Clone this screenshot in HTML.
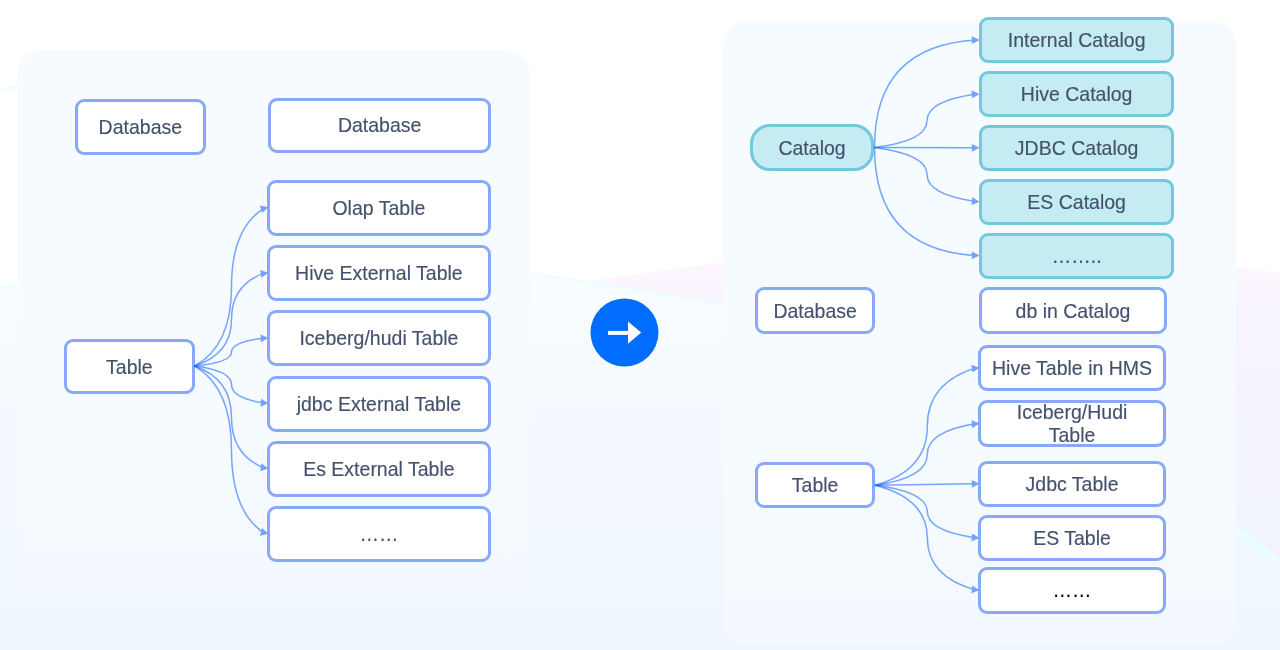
<!DOCTYPE html>
<html><head><meta charset="utf-8"><style>
html,body{margin:0;padding:0;}
body{width:1280px;height:650px;overflow:hidden;position:relative;font-family:"Liberation Sans",sans-serif;
background:#ffffff;}
.panel{position:absolute;border-radius:25px;background:linear-gradient(180deg,#f5fbff 0%,#f5fbff 60%,#f3f9fe 100%);}
.bx{position:absolute;box-sizing:border-box;display:flex;align-items:center;justify-content:center;text-align:center;
font-size:19.5px;line-height:22px;color:#44516d;white-space:nowrap;will-change:transform;}
.b{border:3px solid #88a8f8;background:#fff;}
.c{border:3px solid #74c8dc;background:#c5ecf2;}
svg{position:absolute;left:0;top:0;}
.t{display:inline-block;transform:scaleY(1.06);transform-origin:50% 72%;-webkit-text-stroke:0.15px #44516d;}
</style></head><body>

<svg width="1280" height="650" viewBox="0 0 1280 650" style="position:absolute;left:0;top:0">
<defs>
<linearGradient id="gl" x1="0" y1="270" x2="0" y2="650" gradientUnits="userSpaceOnUse">
<stop offset="0" stop-color="#fafdff"/><stop offset="0.4" stop-color="#f3f9fe"/><stop offset="1" stop-color="#eff7fd"/></linearGradient>
<linearGradient id="gp" x1="0" y1="262" x2="0" y2="560" gradientUnits="userSpaceOnUse">
<stop offset="0" stop-color="#fdf6fe"/><stop offset="0.2" stop-color="#f7f4fd"/><stop offset="1" stop-color="#f0f3fd"/></linearGradient>
</defs>
<path d="M-5 290 Q240 225 530 273 L724 305 L1280 420 L1280 650 L0 650Z" fill="url(#gl)"/>
<path d="M590 281 L724 262 L1236 267 L1280 273 L1280 563 L1236 530 L724 305Z" fill="url(#gp)"/>
<path d="M1236 530 L1280 563" stroke="#eafffd" stroke-width="8"/>
<path d="M-5 290 Q240 225 530 273 L724 305" fill="none" stroke="#eefdfd" stroke-width="3"/>
<path d="M0 91 L17 86" stroke="#effdfd" stroke-width="3"/>
</svg>
<div class="panel" style="left:17.2px;top:50px;width:512.8px;height:541px"></div>
<div class="panel" style="left:723.4px;top:21px;width:512.8px;height:624px"></div>
<div class="bx b" style="left:74.8px;top:98.9px;width:130.7px;height:55.7px;border-radius:9px;"><span class="t">Database</span></div>
<div class="bx b" style="left:267.5px;top:98.4px;width:223.3px;height:54.7px;border-radius:9px;"><span class="t">Database</span></div>
<div class="bx b" style="left:64.1px;top:338.9px;width:130.7px;height:55px;border-radius:9px;"><span class="t">Table</span></div>
<div class="bx b" style="left:267.2px;top:179.6px;width:223.8px;height:55.5px;border-radius:9px;"><span class="t">Olap Table</span></div>
<div class="bx b" style="left:267.2px;top:244.89999999999998px;width:223.8px;height:55.5px;border-radius:9px;"><span class="t">Hive External Table</span></div>
<div class="bx b" style="left:267.2px;top:310.2px;width:223.8px;height:55.5px;border-radius:9px;"><span class="t">Iceberg/hudi Table</span></div>
<div class="bx b" style="left:267.2px;top:375.5px;width:223.8px;height:55.5px;border-radius:9px;"><span class="t">jdbc External Table</span></div>
<div class="bx b" style="left:267.2px;top:440.79999999999995px;width:223.8px;height:55.5px;border-radius:9px;"><span class="t">Es External Table</span></div>
<div class="bx b" style="left:267.2px;top:506.1px;width:223.8px;height:55.5px;border-radius:9px;"><span class="t">……</span></div>
<div class="bx c" style="left:750.3px;top:124.4px;width:124.1px;height:46.6px;border-radius:20px;padding-top:0.5px;"><span class="t">Catalog</span></div>
<div class="bx c" style="left:978.5px;top:16.9px;width:195.3px;height:46.2px;border-radius:9px;padding-top:0.5px;"><span class="t">Internal Catalog</span></div>
<div class="bx c" style="left:978.5px;top:70.8px;width:195.3px;height:46.2px;border-radius:9px;padding-top:0.5px;"><span class="t">Hive Catalog</span></div>
<div class="bx c" style="left:978.5px;top:124.69999999999999px;width:195.3px;height:46.2px;border-radius:9px;padding-top:0.5px;"><span class="t">JDBC Catalog</span></div>
<div class="bx c" style="left:978.5px;top:178.6px;width:195.3px;height:46.2px;border-radius:9px;padding-top:0.5px;"><span class="t">ES Catalog</span></div>
<div class="bx c" style="left:978.5px;top:232.5px;width:195.3px;height:46.2px;border-radius:9px;padding-top:0.5px;"><span class="t">……..</span></div>
<div class="bx b" style="left:754.5px;top:286.5px;width:120.3px;height:46.7px;border-radius:9px;padding-top:0.5px;"><span class="t">Database</span></div>
<div class="bx b" style="left:978.5px;top:286.8px;width:188px;height:46.6px;border-radius:9px;padding-top:0.5px;"><span class="t">db in Catalog</span></div>
<div class="bx b" style="left:754.9px;top:462px;width:120.2px;height:46.2px;border-radius:9px;padding-top:0.5px;"><span class="t">Table</span></div>
<div class="bx b" style="left:978.4px;top:344.5px;width:188.1px;height:46.3px;border-radius:9px;padding-top:0.5px;"><span class="t">Hive Table in HMS</span></div>
<div class="bx b" style="left:978.4px;top:400.3px;width:188.1px;height:46.6px;border-radius:9px;padding-top:0.5px;"><span class="t">Iceberg/Hudi<br>Table</span></div>
<div class="bx b" style="left:978.4px;top:460.5px;width:188.1px;height:46.4px;border-radius:9px;padding-top:0.5px;"><span class="t">Jdbc Table</span></div>
<div class="bx b" style="left:978.4px;top:514.8px;width:188.1px;height:46.3px;border-radius:9px;padding-top:0.5px;"><span class="t">ES Table</span></div>
<div class="bx b" style="left:978.4px;top:566.8px;width:188.1px;height:47px;border-radius:9px;padding-top:0.5px;"><span class="t" style="color:#000;-webkit-text-stroke:0.15px #000;position:relative;top:-1px">……</span></div>
<svg width="1280" height="650" viewBox="0 0 1280 650">
<g fill="none" stroke="#0d5eff" stroke-opacity="0.55" stroke-width="1.5"><path d="M194.5 366 Q231.50 346.17 231.50 286.68 Q231.50 227.18 265.50 207.35"/><path d="M194.5 366 Q231.50 354.33 231.50 319.32 Q231.50 284.32 265.50 272.65"/><path d="M194.5 366 Q231.50 362.49 231.50 351.98 Q231.50 341.46 265.50 337.95"/><path d="M194.5 366 Q231.50 370.66 231.50 384.62 Q231.50 398.59 265.50 403.25"/><path d="M194.5 366 Q231.50 378.82 231.50 417.27 Q231.50 455.73 265.50 468.55"/><path d="M194.5 366 Q231.50 386.98 231.50 449.93 Q231.50 512.87 265.50 533.85"/><path d="M874.5 147.5 Q874.5 45.38 976.6 40.0"/><path d="M874.5 147.5 Q927.05 140.80 927.05 120.70 Q927.05 100.60 976.60 93.90"/><path d="M874.5 147.5 L974.6 147.79999999999998"/><path d="M874.5 147.5 Q927.05 154.28 927.05 174.60 Q927.05 194.92 976.60 201.70"/><path d="M874.5 147.5 Q874.5 250.19 976.6 255.6"/><path d="M875 485.3 Q927.30 470.59 927.30 426.48 Q927.30 382.36 976.60 367.65"/><path d="M875 485.3 Q927.30 477.59 927.30 454.45 Q927.30 431.31 976.60 423.60"/><path d="M875 485.3 L974.6 483.7"/><path d="M875 485.3 Q927.30 491.88 927.30 511.62 Q927.30 531.37 976.60 537.95"/><path d="M875 485.3 Q927.30 498.43 927.30 537.80 Q927.30 577.17 976.60 590.30"/></g>
<g fill="#74a1f9"><path d="M268.50 207.35 L261.88 213.03 L259.99 205.47Z"/><path d="M268.50 272.65 L261.38 277.69 L260.20 269.98Z"/><path d="M268.50 337.95 L260.89 342.21 L260.52 334.42Z"/><path d="M268.50 403.25 L260.47 406.65 L260.96 398.87Z"/><path d="M268.50 468.55 L260.16 471.10 L261.46 463.41Z"/><path d="M268.50 533.85 L259.96 535.63 L261.95 528.09Z"/><path d="M979.60 40.00 L971.90 44.10 L971.70 36.30Z"/><path d="M979.60 93.90 L972.06 98.29 L971.57 90.50Z"/><path d="M979.60 147.80 L971.79 151.68 L971.81 143.88Z"/><path d="M979.60 201.70 L971.57 205.09 L972.07 197.31Z"/><path d="M979.60 255.60 L971.70 259.30 L971.90 251.50Z"/><path d="M979.60 367.65 L972.41 372.58 L971.34 364.85Z"/><path d="M979.60 423.60 L972.11 428.06 L971.54 420.28Z"/><path d="M979.60 483.70 L971.86 487.72 L971.74 479.92Z"/><path d="M979.60 537.95 L971.57 541.35 L972.06 533.57Z"/><path d="M979.60 590.30 L971.38 593.21 L972.34 585.47Z"/></g>
<circle cx="624.5" cy="332.5" r="34" fill="#006dff"/>
<rect x="608" y="330.9" width="21" height="4" fill="#fff"/><path d="M628 321.6 L641.2 332.6 L628 343.8Z" fill="#fff"/>
</svg>
</body></html>
